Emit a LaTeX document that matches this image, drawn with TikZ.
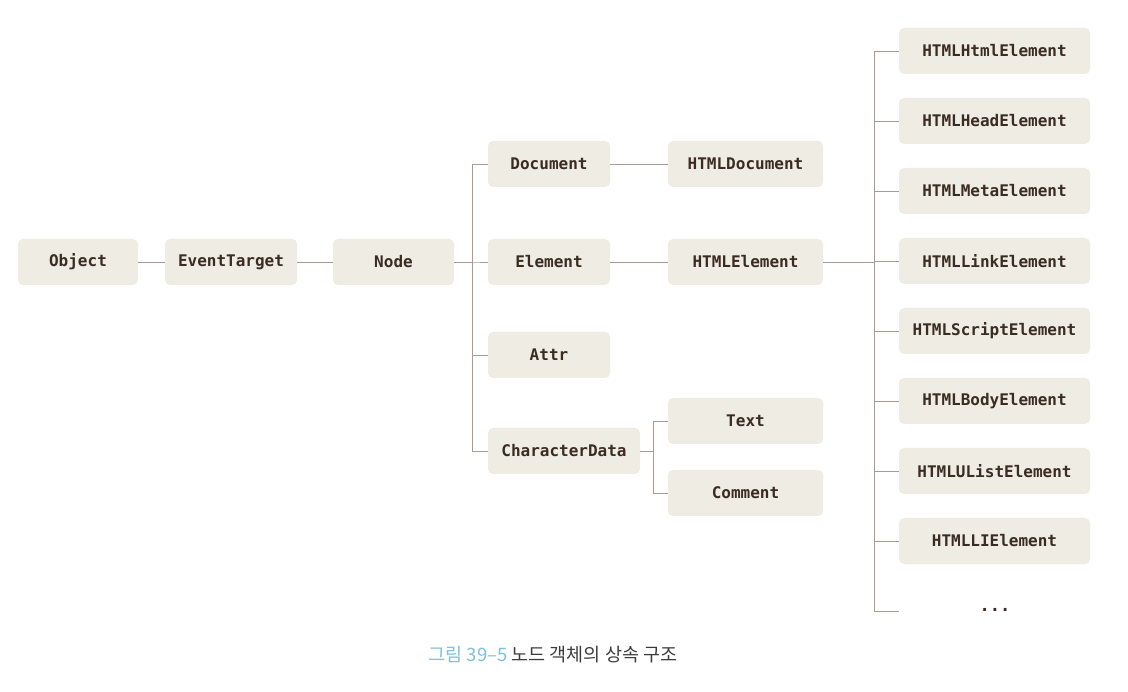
\documentclass[tikz,border=0pt]{standalone}
\usepackage{fontspec}
\setmonofont{DejaVu Sans Mono}
\newfontfamily\krfont{Noto Sans CJK KR}
\usepackage{xcolor}
\usepackage{tikz}
\usetikzlibrary{positioning,calc}
\definecolor{boxfill}{RGB}{239,236,228}
\definecolor{boxtext}{RGB}{58,44,34}
\definecolor{linkline}{RGB}{170,154,148}
\definecolor{capblue}{RGB}{125,192,226}
\definecolor{capgray}{RGB}{60,60,60}
\tikzset{
  typebox/.style={fill=boxfill,rounded corners=5pt,minimum height=46pt,
    text=boxtext,font=\ttfamily\bfseries\fontsize{16}{18}\selectfont,inner sep=0pt},
  link/.style={draw=linkline,line width=0.8pt}
}

\begin{document}
\begin{tikzpicture}[x=1pt,y=-1pt]
\useasboundingbox (0,0) rectangle (1128,692);
\fill[white] (0,0) rectangle (1128,692);
% chaîne principale
\node[typebox,minimum width=120pt] (obj) at (78,262) {Object};
\node[typebox,minimum width=132pt] (evt) at (231,262) {EventTarget};
\node[typebox,minimum width=121pt] (nd) at (393.5,262) {Node};
% enfants de Node
\node[typebox,minimum width=122pt] (doc) at (549,164) {Document};
\node[typebox,minimum width=122pt] (elem) at (549,262) {Element};
\node[typebox,minimum width=122pt] (attr) at (549,355) {Attr};
\node[typebox,minimum width=152pt] (chdata) at (564,451) {CharacterData};
\node[typebox,minimum width=155pt] (htmldoc) at (745.5,164) {HTMLDocument};
\node[typebox,minimum width=155pt] (htmlelem) at (745.5,262) {HTMLElement};
\node[typebox,minimum width=155pt] (txt) at (745.5,421) {Text};
\node[typebox,minimum width=155pt] (cmt) at (745.5,493) {Comment};
% sous-classes de HTMLElement
\foreach \lbl [count=\i] in {HTMLHtmlElement,HTMLHeadElement,HTMLMetaElement,
    HTMLLinkElement,HTMLScriptElement,HTMLBodyElement,HTMLUListElement,HTMLLIElement}
  \node[typebox,minimum width=191pt] (h\i) at (994.5,{51+70*(\i-1)}) {\lbl};
\node[text=boxtext,font=\ttfamily\bfseries\fontsize{17}{18}\selectfont] (dots) at (995,610) {...};
\coordinate (more) at (899,611);
% liaisons
\draw[link] (obj) -- (evt);
\draw[link] (evt) -- (nd);
\foreach \c in {doc,elem,attr,chdata}
  \draw[link] (nd.east) -- ++(18,0) |- (\c.west);
\draw[link] (doc) -- (htmldoc);
\draw[link] (elem) -- (htmlelem);
\foreach \c in {txt,cmt}
  \draw[link] (chdata.east) -- ++(13,0) |- (\c.west);
\foreach \i in {1,...,8}
  \draw[link] (htmlelem.east) -- ++(51,0) |- (h\i.west);
\draw[link] (htmlelem.east) -- ++(51,0) |- (more);
% légende
\node[font=\krfont\fontsize{18.5}{20}\selectfont] (cap) at (553,655)
  {\textcolor{capblue}{그림 39–5} \textcolor{capgray}{노드 객체의 상속 구조}};
\end{tikzpicture}
\end{document}
